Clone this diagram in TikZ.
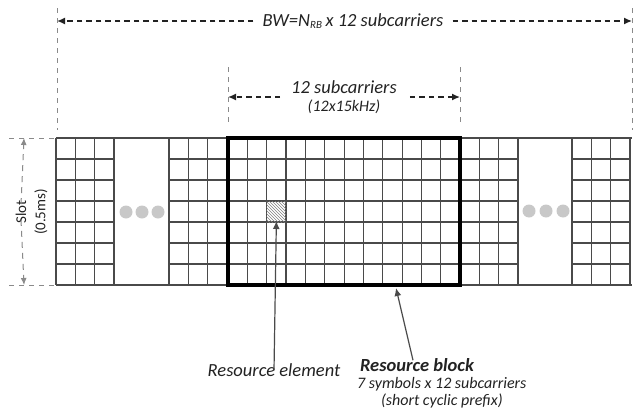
\documentclass[tikz,border=0pt]{standalone}
\usepackage{fontspec}
\setmainfont{Carlito}
\usetikzlibrary{arrows.meta,patterns,positioning}

\begin{document}
\begin{tikzpicture}[x=1pt,y=-1pt]

% Colori
\definecolor{gridGray}{HTML}{4A4A4A}
\definecolor{dotGray}{HTML}{C8C8C8}
\definecolor{dimGray}{HTML}{8A8A8A}
\definecolor{txtDark}{HTML}{222222}

\tikzset{
  gridline/.style={gridGray, line width=1.15pt},
  blockframe/.style={black, line width=4pt},
  dimarrow/.style={txtDark, line width=1.4pt, dash pattern=on 5.5pt off 4pt, -{Latex[length=8pt,width=7pt]}},
  extline/.style={dimGray, line width=0.8pt, dash pattern=on 5pt off 5pt},
  slotarrow/.style={dimGray, line width=1pt, dash pattern=on 6pt off 5pt, -{Latex[length=7pt,width=6pt]}},
  callout/.style={gridGray, line width=1.2pt, -{Latex[length=8pt,width=7pt]}},
  lbl/.style={txtDark, font=\fontsize{18.5}{20}\selectfont\itshape, inner sep=1pt},
  sublbl/.style={txtDark, font=\fontsize{16}{18}\selectfont\itshape, inner sep=1pt}
}

% Griglia: 7 simboli per slot
\def\ytop{138}
\def\ybot{285}
\def\rh{21}
\def\cw{19.35}

\useasboundingbox (0,0) rectangle (639,415);

% Gruppi di sottoportanti (inizio / numero colonne)
\foreach \xa/\n in {56/3,169/3,228/12,460/3,572/3} {
  \foreach \i in {0,...,\n}
    \draw[gridline] ({\xa+\i*\cw},\ytop) -- ({\xa+\i*\cw},\ybot);
  \foreach \j in {0,...,7}
    \draw[gridline] (\xa,{\ytop+\j*\rh}) -- ({\xa+\n*\cw},{\ytop+\j*\rh});
}
\draw[gridline] (56,\ytop) -- (632,\ytop);
\draw[gridline] (56,\ybot) -- (632,\ybot);

% Puntini
\foreach \x in {126,142,158} \fill[dotGray] (\x,212) circle (6.5pt);
\foreach \x in {529,546,563} \fill[dotGray] (\x,211) circle (6.5pt);

% Resource element (colonna 3, riga 4 del blocco)
\fill[pattern=north west lines, pattern color=gray]
  ({228+2*\cw},{\ytop+3*\rh}) rectangle ({228+3*\cw},{\ytop+4*\rh});
\coordinate (reCell) at ({228+2.5*\cw},{\ytop+4*\rh-1});

% Resource block
\draw[blockframe] (228,\ytop) rectangle (460,\ybot);
\coordinate (rbEdge) at (396,{\ybot+3});

% BW complessiva
\coordinate (bwL) at (57,21);
\coordinate (bwR) at (632,21);
\node[lbl] (bwLabel) at (353,21) {BW=N\textsubscript{\fontsize{11}{12}\selectfont RB}\,x 12 subcarriers};
\draw[dimarrow] ([xshift=-8pt]bwLabel.west) -- (bwL);
\draw[dimarrow] ([xshift=8pt]bwLabel.east) -- (bwR);
\draw[extline] (57,8) -- (57,130);
\draw[extline] (632,8) -- (632,130);

% 12 sottoportanti
\coordinate (scL) at (228,97);
\coordinate (scR) at (460,97);
\node[lbl] (scLabel) at (344,87) {12 subcarriers};
\node[sublbl, below=4pt of scLabel] (scSub) {(12x15kHz)};
\draw[dimarrow] ([xshift=-10pt]scL -| scLabel.west) -- (scL);
\draw[dimarrow] ([xshift=12pt]scR -| scLabel.east) -- (scR);
\draw[extline] (228,67) -- (228,126);
\draw[extline] (460,67) -- (460,126);

% Slot
\coordinate (slotT) at (24,\ytop);
\coordinate (slotB) at (24,\ybot);
\node[lbl, rotate=90, font=\fontsize{15}{16}\selectfont] (slotLabel) at (21,212) {Slot};
\node[sublbl, rotate=90, font=\fontsize{15}{16}\selectfont] (slotSub) at (41,212) {(0.5ms)};
\draw[slotarrow] ([yshift=-5pt]slotLabel.east) -- (slotT);
\draw[slotarrow] ([yshift=5pt]slotLabel.west) -- (slotB);
\draw[extline] (9,\ytop) -- (56,\ytop);
\draw[extline] (9,\ybot) -- (56,\ybot);

% Etichette in basso
\node[lbl] (reLabel) at (274,370) {Resource element};
\draw[callout] ([yshift=-8pt]reLabel.north) -- (reCell);

\node[lbl, font=\fontsize{18.5}{20}\selectfont\bfseries\itshape] (rbLabel) at (417,365) {Resource block};
\node[sublbl, anchor=west] (rbSub) at (356,384) {7 symbols x 12 subcarriers};
\node[sublbl, below=1pt of rbSub] (rbNote) {(short cyclic prefix)};
\draw[callout] ([xshift=-4pt,yshift=-3pt]rbLabel.north) -- (rbEdge);

\end{tikzpicture}
\end{document}
